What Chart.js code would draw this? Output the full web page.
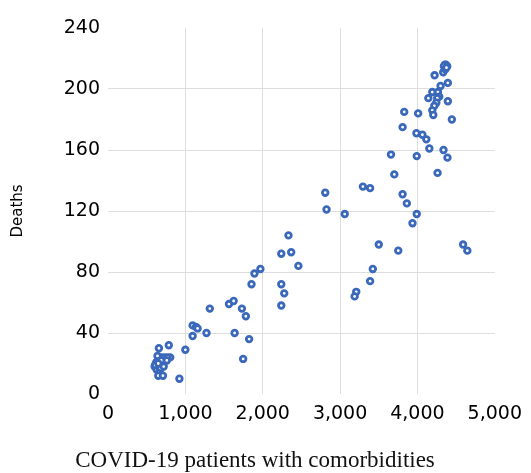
<!DOCTYPE html>
<html>
<head>
<meta charset="utf-8">
<script src="https://cdn.jsdelivr.net/npm/chart.js@4/dist/chart.umd.min.js"></script>
<style>
  html, body { margin: 0; padding: 0; background: #fff; }
  #wrap { width: 531px; height: 473px; position: relative; }
</style>
</head>
<body>
<div id="wrap"><canvas id="scatter-chart"></canvas></div>
<script>
// patients with comorbidities (x) vs deaths (y)
var patients = [
  4355, 4368, 4385, 4342, 4333, 4222, 4393, 4299, 4192, 4265,
  4141, 4282, 4256, 4393, 4244, 4218, 4192, 4205, 3829, 4009,
  4445, 3808, 3987, 4064, 4115, 4154, 4337, 3658, 3991, 4388,
  3701, 4260, 3295, 3388, 3808, 4360, 4375,
  2808, 3863, 2825, 3060, 3991, 3936, 2333, 2240, 2368, 2461,
  4590, 4645, 3500, 3752, 1970, 1893, 3423, 1855, 2240, 2278,
  3388, 3209, 3188,
  2240, 1316, 1564, 1624, 1731, 1782, 1094, 1137, 1158, 1094,
  1273, 1637, 1824, 1747, 658, 786, 1000, 923, 804,
  603, 628, 654, 692, 731, 769, 667, 705, 628, 744,
  667, 650, 710, 620, 640, 610, 680, 720, 690, 650, 760
];
var deaths = [
  216, 216, 215, 215, 211, 209, 204, 202, 198, 198,
  194, 195, 194, 192, 191, 189, 186, 183, 185, 184,
  180, 175, 171, 170, 167, 161, 160, 157, 156, 155,
  144, 145, 136, 135, 131, 213, 214,
  132, 125, 121, 118, 118, 112, 104, 92, 93, 84,
  98, 94, 98, 94, 82, 79, 82, 72, 72, 66,
  74, 67, 64,
  58, 56, 59, 61, 56, 51, 45, 44, 43, 38,
  40, 40, 36, 23, 30, 32, 29, 10, 24,
  18, 21, 22, 24, 24, 24, 19, 20, 16, 22,
  15, 12, 12, 20, 25, 19, 17, 18, 22, 20, 22
];
var xTicks = [0, 1000, 2000, 3000, 4000, 5000];
var yTicks = [0, 40, 80, 120, 160, 200, 240];
var xTitle = 'COVID-19 patients with comorbidities';
var yTitle = 'Deaths';

(function () {
  'use strict';

  var points = patients.map(function (x, i) {
    return { x: x, y: deaths[i] };
  });

  // grid only between the outer ticks, like the source
  function innerGrid(ctx) {
    var n = ctx.scale.ticks.length;
    if (ctx.index === 0 || ctx.index === n - 1) {
      return 'rgba(0,0,0,0)';
    }
    return '#dedede';
  }

  var captionPlugin = {
    id: 'caption',
    afterDraw: function (chart) {
      var c = chart.ctx;
      c.save();
      c.font = '23px "Liberation Serif", "Times New Roman", serif';
      c.fillStyle = '#111';
      c.textAlign = 'center';
      c.textBaseline = 'alphabetic';
      c.fillText(xTitle, 255, 467);
      c.restore();
    }
  };

  var tickFont = { family: '"DejaVu Sans", sans-serif', size: 19 };

  new Chart(document.getElementById('scatter-chart'), {
    type: 'scatter',
    data: {
      datasets: [{
        label: yTitle,
        data: points,
        pointRadius: 2.8,
        pointHoverRadius: 2.8,
        borderWidth: 2.8,
        borderColor: '#3a68ba',
        backgroundColor: '#ffffff'
      }]
    },
    options: {
      responsive: true,
      maintainAspectRatio: false,
      animation: false,
      layout: { padding: { top: 28, right: 33, left: 0, bottom: 0 } },
      plugins: {
        legend: { display: false },
        tooltip: { enabled: false }
      },
      scales: {
        x: {
          type: 'linear',
          min: xTicks[0],
          max: xTicks[xTicks.length - 1],
          afterBuildTicks: function (scale) {
            scale.ticks = xTicks.map(function (v) { return { value: v }; });
          },
          ticks: { font: tickFont, color: '#000', padding: 9, maxRotation: 0 },
          grid: { color: innerGrid, drawTicks: false },
          border: { display: false },
          afterFit: function (scale) { scale.height = 79; }
        },
        y: {
          type: 'linear',
          min: yTicks[0],
          max: yTicks[yTicks.length - 1],
          afterBuildTicks: function (scale) {
            scale.ticks = yTicks.map(function (v) { return { value: v }; });
          },
          ticks: { font: tickFont, color: '#000', padding: 8 },
          grid: { color: innerGrid, drawTicks: false },
          border: { display: false },
          title: {
            display: true,
            text: yTitle,
            color: '#000',
            font: { family: '"DejaVu Sans", sans-serif', size: 15 },
            padding: { top: 9, bottom: 36 }
          },
          afterFit: function (scale) { scale.width = 108; }
        }
      }
    },
    plugins: [captionPlugin]
  });
})();
</script>
</body>
</html>
